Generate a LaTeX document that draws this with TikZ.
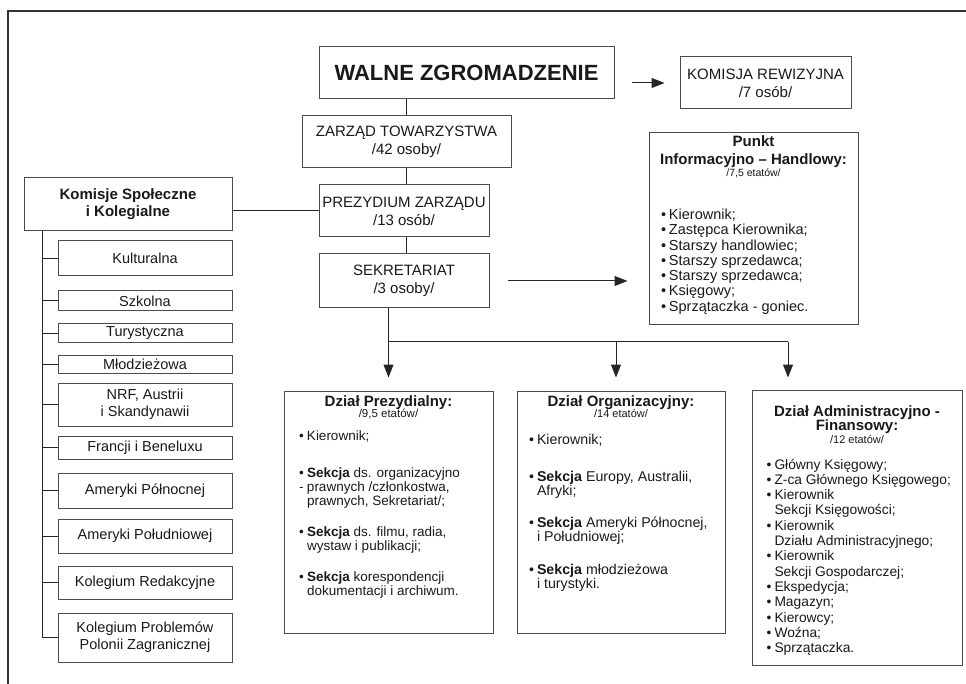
\documentclass[tikz,border=0pt]{standalone}
\usepackage{fontspec}
\setmainfont{Liberation Sans}
\usetikzlibrary{arrows.meta}

\tikzset{
  box/.style={draw=black!70, line width=1pt, inner sep=0pt, align=center, text=black!90},
  small/.style={box, minimum width=174pt, font=\fontsize{14.5}{17}\selectfont},
  mid/.style={box, font=\fontsize{15}{18}\selectfont},
  conn/.style={draw=black!85, line width=1pt},
  arr/.style={-{Triangle[length=13pt,width=10pt]}}
}
\newcommand\boxline[3]{{\fontsize{#1}{#2}\selectfont#3\par}}
\newcommand\bul{\makebox[8pt][l]{\textbullet}}
\newcommand\cind{\hspace*{8pt}}

\begin{document}
\begin{tikzpicture}[x=1pt,y=-1pt]
    \useasboundingbox (0,0) rectangle (966,684);
    \draw[black!80, line width=1.2pt] (966,11) -- (8,11) -- (8,684);

    \node[box, minimum width=295pt, minimum height=52pt, font=\fontsize{22}{24}\selectfont\bfseries] (walne) at (466.5,73) {WALNE ZGROMADZENIE};
    \node[mid, minimum width=171pt, minimum height=52pt] (rew) at (765.5,83) {KOMISJA REWIZYJNA\\/7 osób/};
    \node[mid, minimum width=209pt, minimum height=52pt] (zarzad) at (406.5,142) {ZARZĄD TOWARZYSTWA\\/42 osoby/};
    \node[mid, minimum width=170pt, minimum height=52pt] (prez) at (404,211) {PREZYDIUM ZARZĄDU\\/13 osób/};
    \node[mid, minimum width=170pt, minimum height=54pt] (sekr) at (404,281) {SEKRETARIAT\\/3 osoby/};

    \node[box] (punkt) at (753.5,229) {\parbox[c][192pt][t]{209pt}{\lineskiplimit=-100pt\centering
        \boxline{15}{15}{\rule{0pt}{13.5pt}\bfseries Punkt}
        \boxline{15}{18}{\bfseries Informacyjno – Handlowy:}
        \boxline{10.5}{12.5}{/7,5 etatów/}
        \raggedright\leftskip=12pt
        \boxline{14.5}{42.5}{\bul Kierownik;}
        \boxline{14.5}{15.3}{\bul Zastępca Kierownika;}
        \boxline{14.5}{15.3}{\bul Starszy handlowiec;}
        \boxline{14.5}{15.3}{\bul Starszy sprzedawca;}
        \boxline{14.5}{15.3}{\bul Starszy sprzedawca;}
        \boxline{14.5}{15.3}{\bul Księgowy;}
        \boxline{14.5}{15.3}{\bul Sprzątaczka - goniec.}}};

    \node[box, minimum width=208pt, minimum height=53pt, font=\fontsize{15}{17}\selectfont\bfseries] (kom) at (128,204.5) {Komisje Społeczne\\i Kolegialne};
    \node[small, minimum height=35pt] (kult) at (145,258.5) {Kulturalna};
    \node[small, minimum height=20pt] (szk) at (145,301) {Szkolna};
    \node[small, minimum height=19pt] (tur) at (145,333.5) {Turystyczna};
    \node[small, minimum height=17pt] (mlo) at (145,364.5) {Młodzieżowa};
    \node[small, minimum height=43pt] (nrf) at (145,404.5) {NRF, Austrii\\i Skandynawii};
    \node[small, minimum height=23pt] (fra) at (145,447.5) {Francji i Beneluxu};
    \node[small, minimum height=35pt] (amn) at (145,490.5) {Ameryki Północnej};
    \node[small, minimum height=34pt] (ams) at (145,536) {Ameryki Południowej};
    \node[small, minimum height=33pt] (kred) at (145,582.5) {Kolegium Redakcyjne};
    \node[small, minimum height=49pt] (kpol) at (145,637.5) {Kolegium Problemów\\Polonii Zagranicznej};

    \node[box] (dprez) at (388.5,512) {\parbox[c][242pt][t]{209pt}{\lineskiplimit=-100pt\centering
        \boxline{15}{15}{\rule{0pt}{15pt}\bfseries Dział Prezydialny:}
        \boxline{11.5}{11.5}{/9,5 etatów/}
        \raggedright\leftskip=15pt
        \boxline{13.5}{23}{\bul Kierownik;}
        \boxline{13.5}{37}{\bul\textbf{Sekcja} ds. organizacyjno}
        \boxline{13.5}{14}{\makebox[8pt][l]{-}prawnych /członkostwa,}
        \boxline{13.5}{14}{\cind prawnych, Sekretariat/;}
        \boxline{13.5}{31}{\bul\textbf{Sekcja} ds. filmu, radia,}
        \boxline{13.5}{14}{\cind wystaw i publikacji;}
        \boxline{13.5}{31}{\bul\textbf{Sekcja} korespondencji}
        \boxline{13.5}{14}{\cind dokumentacji i archiwum.}}};

    \node[box] (dorg) at (621,512) {\parbox[c][242pt][t]{208pt}{\lineskiplimit=-100pt\centering
        \boxline{15}{15}{\rule{0pt}{15pt}\bfseries Dział Organizacyjny:}
        \boxline{11}{11.5}{/14 etatów/}
        \raggedright\leftskip=12pt
        \boxline{14.2}{26.5}{\bul Kierownik;}
        \boxline{14.2}{37}{\bul\textbf{Sekcja} Europy, Australii,}
        \boxline{14.2}{14}{\cind Afryki;}
        \boxline{14.2}{32}{\bul\textbf{Sekcja} Ameryki Północnej,}
        \boxline{14.2}{14}{\cind i Południowej;}
        \boxline{14.2}{33}{\bul\textbf{Sekcja} młodzieżowa}
        \boxline{14.2}{14}{\cind i turystyki.}}};

    \node[box] (dadm) at (857,527.5) {\parbox[c][275pt][t]{210pt}{\lineskiplimit=-100pt\centering
        \boxline{15}{15}{\rule{0pt}{26pt}\bfseries Dział Administracyjno -}
        \boxline{15}{14.5}{\bfseries Finansowy:}
        \boxline{11}{12.5}{/12 etatów/}
        \raggedright\leftskip=14.5pt
        \boxline{13.8}{26}{\bul Główny Księgowy;}
        \boxline{13.8}{15.3}{\bul Z-ca Głównego Księgowego;}
        \boxline{13.8}{15.3}{\bul Kierownik}
        \boxline{13.8}{15.3}{\cind Sekcji Księgowości;}
        \boxline{13.8}{15.3}{\bul Kierownik}
        \boxline{13.8}{15.3}{\cind Działu Administracyjnego;}
        \boxline{13.8}{15.3}{\bul Kierownik}
        \boxline{13.8}{15.3}{\cind Sekcji Gospodarczej;}
        \boxline{13.8}{15.3}{\bul Ekspedycja;}
        \boxline{13.8}{15.3}{\bul Magazyn;}
        \boxline{13.8}{15.3}{\bul Kierowcy;}
        \boxline{13.8}{15.3}{\bul Woźna;}
        \boxline{13.8}{15.3}{\bul Sprzątaczka.}}};

    \draw[conn] (zarzad.north) -- (zarzad.north |- walne.south);
    \draw[conn] (zarzad.south) -- (zarzad.south |- prez.north);
    \draw[conn] (zarzad.south |- prez.south) -- (zarzad.south |- sekr.north);
    \draw[conn, arr, shorten <=17pt, shorten >=15pt] (rew.west -| walne.east) -- (rew.west);
    \draw[conn, arr, shorten <=18pt, shorten >=21pt] (sekr.east) -- (sekr.east -| punkt.west);
    \draw[conn] (prez.west) -- (prez.west -| kom.east);

    \coordinate (sp) at (42,0);
    \draw[conn] (sp |- kom.south) |- (kpol.west);
    \draw[conn] (sp |- kult.west) -- (kult.west);
    \draw[conn] (sp |- szk.west) -- (szk.west);
    \draw[conn] (sp |- tur.west) -- (tur.west);
    \draw[conn] (sp |- mlo.west) -- (mlo.west);
    \draw[conn] (sp |- nrf.west) -- (nrf.west);
    \draw[conn] (sp |- fra.west) -- (fra.west);
    \draw[conn] (sp |- amn.west) -- (amn.west);
    \draw[conn] (sp |- ams.west) -- (ams.west);
    \draw[conn] (sp |- kred.west) -- (kred.west);

    \coordinate (bus) at (0,342);
    \coordinate (j2) at (616,342);
    \coordinate (j3) at (788,342);
    \draw[conn, arr, shorten >=13pt] (dprez.north |- sekr.south) -- (dprez.north);
    \draw[conn] (dprez.north |- bus) -- (j3);
    \draw[conn, arr, shorten >=13pt] (j2) -- (j2 |- dorg.north);
    \draw[conn, arr, shorten >=12pt] (j3) -- (j3 |- dadm.north);
\end{tikzpicture}
\end{document}
